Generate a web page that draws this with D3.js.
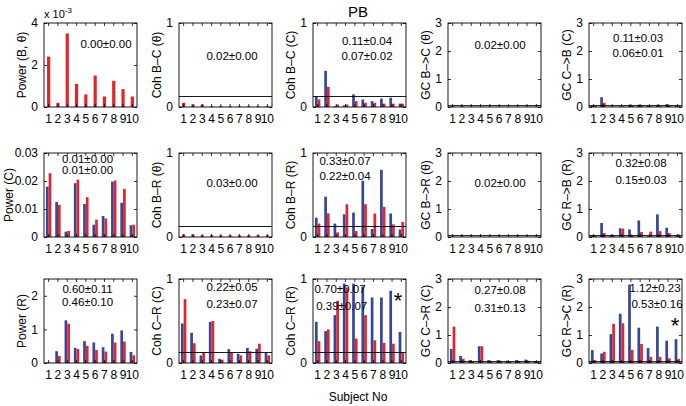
<!DOCTYPE html>
<html><head><meta charset="utf-8">
<script src="https://cdn.jsdelivr.net/npm/d3@7/dist/d3.min.js"></script>
<style>
body{margin:0;background:#fff}
text{font-family:"Liberation Sans",Arial,Helvetica,sans-serif;fill:#000}
</style>
</head><body>
<svg id="chart" width="686" height="406"></svg>
<script>
// ---------- DATA ----------
const subjects = ["1","2","3","4","5","6","7","8","9","10"];

// Row 1
const powB_theta_red   = [0.0024,0.0002,0.0035,0.0011,0.0006,0.0015,0.0005,0.00125,0.00085,0.0005];
const cohBC_theta_red  = [0.05,0.03,0.03,0.01,0.01,0.01,0.01,0.01,0.01,0.01];
const cohBC_C_blue     = [0.13,0.43,0.01,0.02,0.15,0.09,0.07,0.10,0.11,0.04];
const cohBC_C_red      = [0.09,0.24,0.03,0.03,0.07,0.05,0.05,0.04,0.04,0.04];
const gcBC_theta_red   = [0.03,0.02,0.01,0.01,0.01,0.01,0.01,0.01,0.01,0.01];
const gcCB_C_blue      = [0.07,0.35,0.01,0.02,0.08,0.08,0.05,0.08,0.10,0.03];
const gcCB_C_red       = [0.05,0.15,0.01,0.02,0.04,0.04,0.03,0.03,0.04,0.03];
// Row 2
const powC_blue        = [0.0180,0.0125,0.0019,0.0192,0.0118,0.0044,0.0075,0.0198,0.0122,0.0042];
const powC_red         = [0.0228,0.0115,0.0022,0.0205,0.0142,0.0062,0.0066,0.0202,0.0172,0.0044];
const cohBR_theta_red  = [0.03,0.03,0.02,0.02,0.02,0.02,0.02,0.02,0.02,0.02];
const cohBR_R_blue     = [0.23,0.48,0.16,0.27,0.29,0.67,0.095,0.80,0.28,0.09];
const cohBR_R_red      = [0.16,0.28,0.055,0.39,0.07,0.39,0.28,0.36,0.15,0.18];
const gcBR_theta_red   = [0.02,0.02,0.01,0.01,0.01,0.01,0.01,0.01,0.01,0.01];
const gcRB_R_blue      = [0.05,0.50,0.08,0.31,0.27,0.59,0.02,0.81,0.33,0.02];
const gcRB_R_red       = [0.05,0.14,0.04,0.30,0.06,0.18,0.19,0.21,0.14,0.09];
// Row 3
const powR_blue        = [0.02,0.35,1.27,0.45,0.65,0.61,0.47,0.87,0.97,0.33];
const powR_red         = [0.01,0.21,1.17,0.42,0.51,0.39,0.34,0.61,0.64,0.23];
const cohCR_C_blue     = [0.47,0.36,0.09,0.49,0.05,0.165,0.11,0.18,0.17,0.13];
const cohCR_C_red      = [0.76,0.235,0.13,0.50,0.04,0.12,0.09,0.14,0.23,0.09];
const cohCR_R_blue     = [0.49,0.38,0.57,0.945,0.945,0.91,0.78,0.78,0.86,0.37];
const cohCR_R_red      = [0.26,0.40,0.74,0.90,0.29,0.57,0.27,0.24,0.23,0.13];
const gcCR_C_blue      = [0.50,0.25,0.10,0.60,0.10,0.10,0.08,0.10,0.12,0.06];
const gcCR_C_red       = [1.30,0.15,0.05,0.60,0.05,0.08,0.06,0.07,0.08,0.05];
const gcRC_R_blue      = [0.46,0.34,1.03,1.76,2.80,1.26,0.53,1.30,0.80,0.85];
const gcRC_R_red       = [0.10,0.40,1.40,1.42,0.47,0.68,0.22,0.22,0.17,0.14];

// Axis labels and tick values
const yLabels = [
  ["Power (B, θ)","Coh B–C (θ)","Coh B–C (C)","GC B–>C (θ)","GC C–>B (C)"],
  ["Power (C)","Coh B–R (θ)","Coh B–R (R)","GC B–>R (θ)","GC R–>B (R)"],
  ["Power (R)","Coh C–R (C)","Coh C–R (R)","GC C–>R (C)","GC R–>C (R)"]
];
const ticksPowB = [0,0.002,0.004];
const ticksPowC = [0,0.01,0.02,0.03];
const ticksPowR = [0,1,2];
const ticksCoh  = [0,1];
const ticksGC   = [0,1,2,3];
// Stats text
const stats = [
  [["0.00±0.00"],["0.02±0.00"],["0.11±0.04","0.07±0.02"],["0.02±0.00"],["0.11±0.03","0.06±0.01"]],
  [["0.01±0.00","0.01±0.00"],["0.03±0.00"],["0.33±0.07","0.22±0.04"],["0.02±0.00"],["0.32±0.08","0.15±0.03"]],
  [["0.60±0.11","0.46±0.10"],["0.22±0.05","0.23±0.07"],["0.70±0.07","0.39±0.07"],["0.27±0.08","0.31±0.13"],["1.12±0.23","0.53±0.16"]]
];
const cohThreshold = 0.125;
const gcThreshold = 0.05;

// ---------- LAYOUT ----------
const colX = [44,179,313,448,589];
const rowY = [23,153,279];
const PW = 93, PH = 84;
const BLUE = "#33479c", RED = "#e3242b";

const panels = [
  {r:0,c:0,ymax:0.004,ticks:ticksPowB,fmt:d=>d3.format("d")(d*1000),red:powB_theta_red,thr:null,tp:[[62,22]],lx:-18.5},
  {r:0,c:1,ymax:1,ticks:ticksCoh,fmt:d3.format("d"),red:cohBC_theta_red,thr:cohThreshold,tp:[[53,34]],lx:-18.5},
  {r:0,c:2,ymax:1,ticks:ticksCoh,fmt:d3.format("d"),blue:cohBC_C_blue,red:cohBC_C_red,thr:cohThreshold,tp:[[54,18.7],[54,34]],lx:-18.5},
  {r:0,c:3,ymax:3,ticks:ticksGC,fmt:d3.format("d"),red:gcBC_theta_red,thr:gcThreshold,tp:[[52,22.7]],lx:-18.5},
  {r:0,c:4,ymax:3,ticks:ticksGC,fmt:d3.format("d"),blue:gcCB_C_blue,red:gcCB_C_red,thr:gcThreshold,tp:[[49,16],[49,31]],lx:-18.5},
  {r:1,c:0,ymax:0.03,ticks:ticksPowC,fmt:d=>d===0?"0":d3.format(".2f")(d),blue:powC_blue,red:powC_red,thr:null,tp:[[43.5,7],[43.5,17.7]],lx:-31.5},
  {r:1,c:1,ymax:1,ticks:ticksCoh,fmt:d3.format("d"),red:cohBR_theta_red,thr:cohThreshold,tp:[[53,31]],lx:-18.5},
  {r:1,c:2,ymax:1,ticks:ticksCoh,fmt:d3.format("d"),blue:cohBR_R_blue,red:cohBR_R_red,thr:cohThreshold,tp:[[32,9],[32,23.7]],lx:-18.5},
  {r:1,c:3,ymax:3,ticks:ticksGC,fmt:d3.format("d"),red:gcBR_theta_red,thr:gcThreshold,tp:[[52,31]],lx:-18.5},
  {r:1,c:4,ymax:3,ticks:ticksGC,fmt:d3.format("d"),blue:gcRB_R_blue,red:gcRB_R_red,thr:gcThreshold,tp:[[52,11],[52,28]],lx:-18.5},
  {r:2,c:0,ymax:2.5,ticks:ticksPowR,fmt:d3.format("d"),blue:powR_blue,red:powR_red,thr:null,tp:[[43.5,11.3],[43.5,24.3]],lx:-18.5},
  {r:2,c:1,ymax:1,ticks:ticksCoh,fmt:d3.format("d"),blue:cohCR_C_blue,red:cohCR_C_red,thr:cohThreshold,tp:[[53,8.7],[53,26]],lx:-18.5},
  {r:2,c:2,ymax:1,ticks:ticksCoh,fmt:d3.format("d"),blue:cohCR_R_blue,red:cohCR_R_red,thr:cohThreshold,tp:[[27,11],[28.7,27.7]],star:[85,16],lx:-18.5},
  {r:2,c:3,ymax:3,ticks:ticksGC,fmt:d3.format("d"),blue:gcCR_C_blue,red:gcCR_C_red,thr:gcThreshold,tp:[[52,12],[52,30]],lx:-18.5},
  {r:2,c:4,ymax:3,ticks:ticksGC,fmt:d3.format("d"),blue:gcRC_R_blue,red:gcRC_R_red,thr:gcThreshold,tp:[[66,10.3],[68,26]],star:[86,41],lx:-18.5}
];

const svg = d3.select("#chart");

panels.forEach(p => {
  const g = svg.append("g").attr("transform",`translate(${colX[p.c]},${rowY[p.r]})`);
  const x = d3.scaleBand().domain(subjects).range([0,PW]).padding(0);
  const y = d3.scaleLinear().domain([0,p.ymax]).range([PH,0]);
  const bw = x.bandwidth();
  const series = p.blue ? ["blue","red"] : ["red"];
  const x1 = p.blue
    ? d3.scaleBand().domain(series).range([bw/2-2.7,bw/2+2.7]).padding(0)
    : d3.scaleBand().domain(series).range([bw/2-1.6,bw/2+1.6]).padding(0);

  series.forEach(s => {
    const vals = p[s];
    g.append("g").selectAll("rect").data(vals).join("rect")
      .attr("x",(d,i)=>x(subjects[i])+x1(s))
      .attr("y",d=>y(d))
      .attr("width",x1.bandwidth())
      .attr("height",d=>PH-y(d))
      .attr("fill",s==="blue"?BLUE:RED);
  });

  if (p.thr !== null) {
    g.append("line").attr("x1",0).attr("x2",PW)
      .attr("y1",y(p.thr)).attr("y2",y(p.thr))
      .attr("stroke","#000").attr("stroke-width",0.9);
  }

  const ax = (axis, tr) => {
    const a = g.append("g").attr("transform",tr||null).call(axis);
    a.select(".domain").remove();
    a.selectAll("line").attr("stroke","#000").attr("stroke-width",0.8);
    a.selectAll("text").attr("font-size",12).attr("fill","#000");
    return a;
  };
  ax(d3.axisBottom(x).tickSize(-3).tickPadding(7), `translate(0,${PH})`);
  ax(d3.axisTop(x).tickSize(-3).tickFormat(""));
  ax(d3.axisLeft(y).tickValues(p.ticks).tickFormat(p.fmt).tickSize(-3).tickPadding(6));
  ax(d3.axisRight(y).tickValues(p.ticks).tickFormat("").tickSize(-3), `translate(${PW},0)`);

  g.append("rect").attr("width",PW).attr("height",PH)
    .attr("fill","none").attr("stroke","#000").attr("stroke-width",0.9);

  g.append("text").attr("transform",`translate(${p.lx},${PH/2}) rotate(-90)`)
    .attr("text-anchor","middle").attr("font-size",12).text(yLabels[p.r][p.c]);

  stats[p.r][p.c].forEach((t,i) => {
    g.append("text").attr("x",p.tp[i][0]).attr("y",p.tp[i][1])
      .attr("text-anchor","middle").attr("dominant-baseline","middle")
      .attr("font-size",11.5).text(t);
  });
  if (p.star) {
    g.append("text").attr("x",p.star[0]).attr("y",p.star[1]+13)
      .attr("text-anchor","middle").attr("font-size",22).text("*");
  }
});

const ex = svg.append("text").attr("x",colX[0]).attr("y",rowY[0]-5).attr("font-size",11);
ex.append("tspan").text("x 10");
ex.append("tspan").attr("dy",-5).attr("font-size",8).text("-3");

svg.append("text").attr("x",358).attr("y",17).attr("text-anchor","middle").attr("font-size",15).text("PB");
svg.append("text").attr("x",358).attr("y",401).attr("text-anchor","middle").attr("font-size",12).text("Subject No");
</script>
</body></html>
